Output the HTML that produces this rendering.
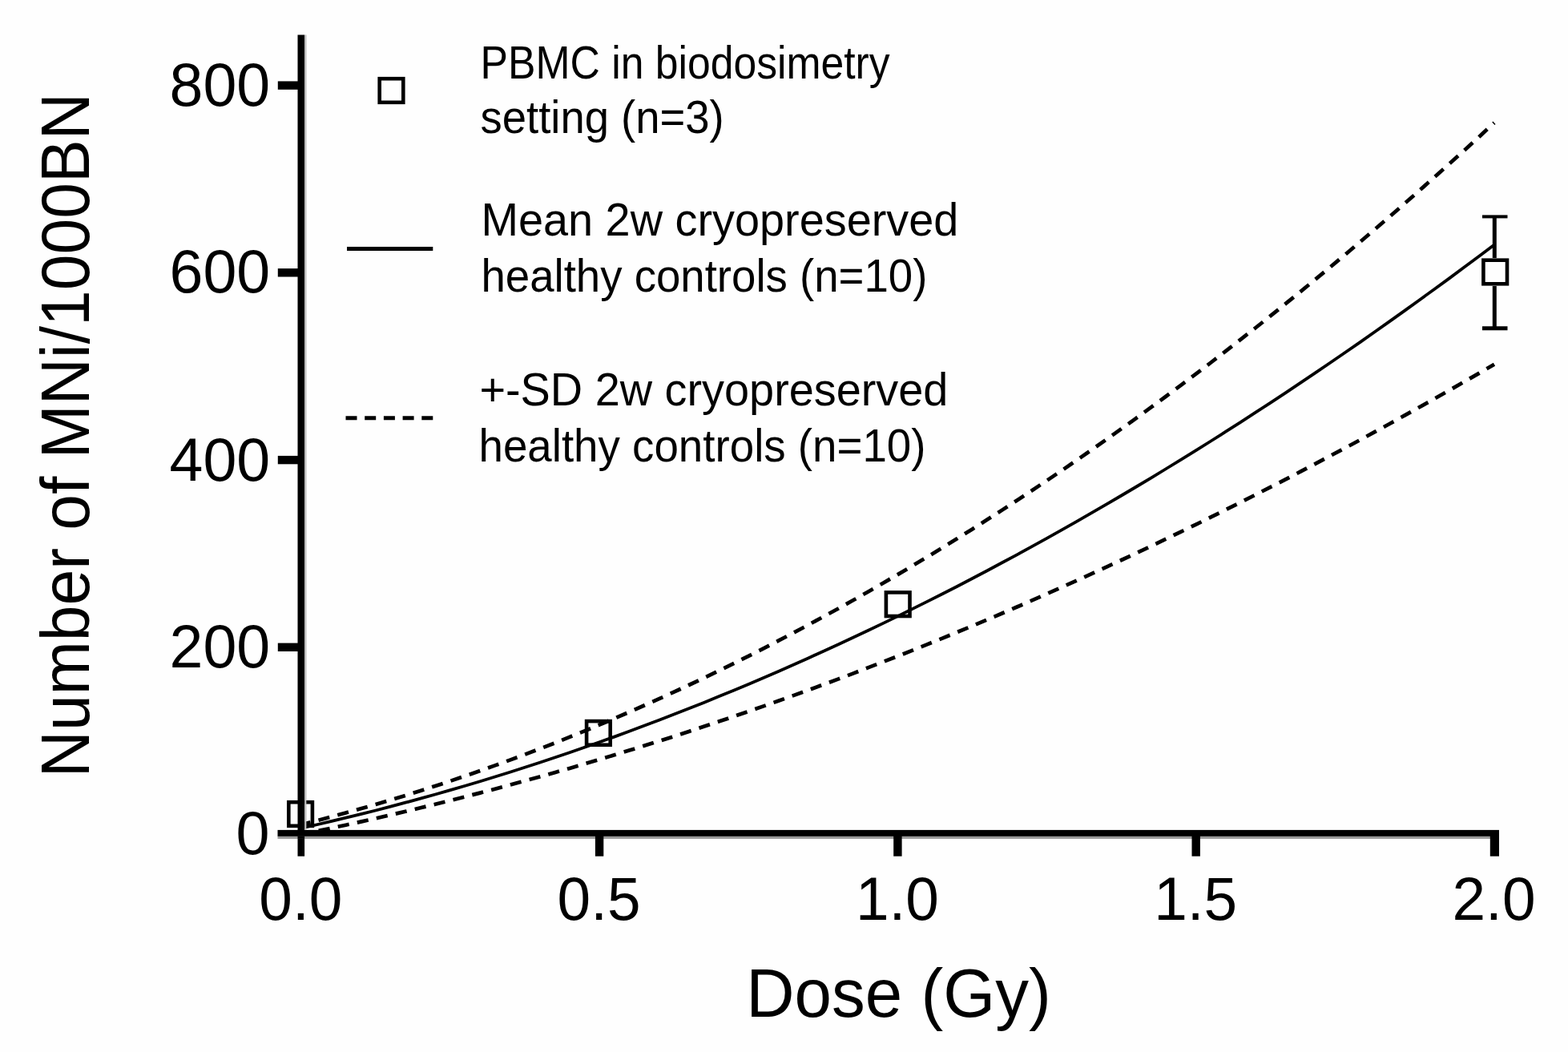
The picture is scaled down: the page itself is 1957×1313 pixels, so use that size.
<!DOCTYPE html>
<html lang="en"><head><meta charset="utf-8"><title>Dose response: MNi/1000BN vs Dose (Gy)</title>
<style>
html,body{margin:0;padding:0;background:#fff;}
body{width:1957px;height:1313px;overflow:hidden;}
svg{display:block;}
text{font-family:"Liberation Sans",sans-serif;fill:#000;}
.t{font-size:76.5px;}
.l{font-size:57px;}
.ax{font-size:84.5px;}
</style></head><body>
<svg width="1957" height="1313" viewBox="0 0 1957 1313">
<rect width="1957" height="1313" fill="#fefefe"/>

<g stroke="#000" stroke-width="5" fill="none">
<path d="M1865.3,270 V322 M1865.3,357 V410 M1850,409.8 H1881.5"/>
<path stroke-width="4" d="M1850,270.4 H1881.5"/>
</g>
<g stroke="#000" stroke-width="4.6" fill="none">
<rect x="360.3" y="1001.2" width="29.6" height="29.6"/>
<rect x="732.1" y="900.1" width="29.6" height="29.6"/>
<rect x="1105.9" y="739.4" width="29.6" height="29.6"/>
<rect x="1851.4" y="324.7" width="29.6" height="29.6"/>
<rect x="473.7" y="98.2" width="29.6" height="29.6"/>
</g>
<g stroke="#000" fill="none">
<path stroke-width="3.8" d="M375.8,1033.6 L394.4,1029.5 L413.0,1025.1 L431.6,1020.7 L450.3,1016.1 L468.9,1011.5 L487.5,1006.7 L506.1,1001.7 L524.7,996.7 L543.3,991.5 L562.0,986.2 L580.6,980.7 L599.2,975.2 L617.8,969.5 L636.4,963.7 L655.0,957.8 L673.6,951.7 L692.3,945.5 L710.9,939.2 L729.5,932.8 L748.1,926.2 L766.7,919.6 L785.3,912.8 L803.9,905.8 L822.6,898.8 L841.2,891.6 L859.8,884.3 L878.4,876.9 L897.0,869.3 L915.6,861.7 L934.2,853.9 L952.9,846.0 L971.5,837.9 L990.1,829.7 L1008.7,821.4 L1027.3,813.0 L1045.9,804.5 L1064.6,795.8 L1083.2,787.0 L1101.8,778.1 L1120.4,769.1 L1139.0,759.9 L1157.6,750.6 L1176.2,741.2 L1194.9,731.7 L1213.5,722.0 L1232.1,712.2 L1250.7,702.3 L1269.3,692.3 L1287.9,682.1 L1306.5,671.8 L1325.2,661.4 L1343.8,650.9 L1362.4,640.2 L1381.0,629.4 L1399.6,618.5 L1418.2,607.5 L1436.9,596.3 L1455.5,585.0 L1474.1,573.6 L1492.7,562.1 L1511.3,550.5 L1529.9,538.7 L1548.5,526.8 L1567.2,514.7 L1585.8,502.6 L1604.4,490.3 L1623.0,477.9 L1641.6,465.4 L1660.2,452.7 L1678.8,440.0 L1697.5,427.1 L1716.1,414.0 L1734.7,400.9 L1753.3,387.6 L1771.9,374.2 L1790.5,360.7 L1809.2,347.1 L1827.8,333.3 L1846.4,319.4 L1865.0,305.4"/>
<path stroke-width="4.7" stroke-dasharray="14.2 10.4" stroke-dashoffset="2.2" d="M375.8,1029.2 L394.4,1024.5 L413.0,1019.6 L431.6,1014.5 L450.3,1009.3 L468.9,1004.0 L487.5,998.5 L506.1,992.8 L524.7,986.9 L543.3,981.0 L562.0,974.8 L580.6,968.5 L599.2,962.0 L617.8,955.4 L636.4,948.6 L655.0,941.7 L673.6,934.6 L692.3,927.4 L710.9,919.9 L729.5,912.4 L748.1,904.7 L766.7,896.8 L785.3,888.7 L803.9,880.5 L822.6,872.2 L841.2,863.7 L859.8,855.0 L878.4,846.2 L897.0,837.2 L915.6,828.1 L934.2,818.8 L952.9,809.3 L971.5,799.7 L990.1,789.9 L1008.7,780.0 L1027.3,769.9 L1045.9,759.7 L1064.6,749.3 L1083.2,738.7 L1101.8,728.0 L1120.4,717.1 L1139.0,706.1 L1157.6,694.9 L1176.2,683.6 L1194.9,672.1 L1213.5,660.4 L1232.1,648.6 L1250.7,636.6 L1269.3,624.5 L1287.9,612.2 L1306.5,599.8 L1325.2,587.2 L1343.8,574.4 L1362.4,561.5 L1381.0,548.4 L1399.6,535.2 L1418.2,521.8 L1436.9,508.2 L1455.5,494.5 L1474.1,480.7 L1492.7,466.6 L1511.3,452.5 L1529.9,438.1 L1548.5,423.6 L1567.2,409.0 L1585.8,394.2 L1604.4,379.2 L1623.0,364.1 L1641.6,348.8 L1660.2,333.4 L1678.8,317.8 L1697.5,302.0 L1716.1,286.1 L1734.7,270.1 L1753.3,253.8 L1771.9,237.5 L1790.5,220.9 L1809.2,204.2 L1827.8,187.4 L1846.4,170.4 L1865.0,153.2"/>
<path stroke-width="4.7" stroke-dasharray="14.2 10.4" stroke-dashoffset="2.2" d="M375.8,1041.5 L394.4,1037.6 L413.0,1033.7 L431.6,1029.7 L450.3,1025.6 L468.9,1021.4 L487.5,1017.1 L506.1,1012.8 L524.7,1008.3 L543.3,1003.8 L562.0,999.1 L580.6,994.4 L599.2,989.6 L617.8,984.7 L636.4,979.7 L655.0,974.6 L673.6,969.5 L692.3,964.2 L710.9,958.9 L729.5,953.4 L748.1,947.9 L766.7,942.3 L785.3,936.6 L803.9,930.8 L822.6,925.0 L841.2,919.0 L859.8,913.0 L878.4,906.8 L897.0,900.6 L915.6,894.3 L934.2,887.9 L952.9,881.4 L971.5,874.8 L990.1,868.1 L1008.7,861.4 L1027.3,854.5 L1045.9,847.6 L1064.6,840.6 L1083.2,833.4 L1101.8,826.2 L1120.4,819.0 L1139.0,811.6 L1157.6,804.1 L1176.2,796.6 L1194.9,788.9 L1213.5,781.2 L1232.1,773.4 L1250.7,765.5 L1269.3,757.5 L1287.9,749.4 L1306.5,741.2 L1325.2,732.9 L1343.8,724.6 L1362.4,716.1 L1381.0,707.6 L1399.6,699.0 L1418.2,690.3 L1436.9,681.5 L1455.5,672.6 L1474.1,663.6 L1492.7,654.6 L1511.3,645.4 L1529.9,636.2 L1548.5,626.9 L1567.2,617.4 L1585.8,607.9 L1604.4,598.4 L1623.0,588.7 L1641.6,578.9 L1660.2,569.0 L1678.8,559.1 L1697.5,549.1 L1716.1,538.9 L1734.7,528.7 L1753.3,518.4 L1771.9,508.0 L1790.5,497.6 L1809.2,487.0 L1827.8,476.3 L1846.4,465.6 L1865.0,454.8"/>
<path stroke-width="5" d="M433,310.6 H540.3"/>
<path stroke-width="5" stroke-dasharray="14 9.7" d="M431.5,521.7 H540.5"/>
</g>
<g fill="#000">
<rect x="371.5" y="43.5" width="8.6" height="1025.2"/>
<rect x="346.5" y="1035.9" width="1524.5" height="8"/>
<rect x="346.5" y="1043.9" width="1524.5" height="3" fill="#999"/>
<rect x="380.1" y="43.5" width="2.3" height="992.4" fill="#bbb"/>
<rect x="371.5" y="1043.9" width="8.6" height="3"/>
<rect x="346.8" y="802.6" width="28" height="10.4"/>
<rect x="346.8" y="568.9" width="28" height="10.4"/>
<rect x="346.8" y="335.1" width="28" height="10.4"/>
<rect x="346.8" y="101.4" width="28" height="10.4"/>
<rect x="742.9" y="1040" width="10.4" height="28.7"/>
<rect x="1115.2" y="1040" width="10.4" height="28.7"/>
<rect x="1487.5" y="1040" width="10.4" height="28.7"/>
<rect x="1859.8" y="1040" width="11.2" height="28.7"/>
</g>
<text class="t" x="336.6" y="1065.6" text-anchor="end" textLength="42" lengthAdjust="spacingAndGlyphs">0</text>
<text class="t" x="337.2" y="833.0" text-anchor="end" textLength="125.6" lengthAdjust="spacingAndGlyphs">200</text>
<text class="t" x="337.2" y="599.8" text-anchor="end" textLength="125.6" lengthAdjust="spacingAndGlyphs">400</text>
<text class="t" x="337.2" y="365.4" text-anchor="end" textLength="125.6" lengthAdjust="spacingAndGlyphs">600</text>
<text class="t" x="337.2" y="132.1" text-anchor="end" textLength="125.6" lengthAdjust="spacingAndGlyphs">800</text>
<text class="t" x="375.3" y="1147.6" text-anchor="middle" textLength="104" lengthAdjust="spacingAndGlyphs">0.0</text>
<text class="t" x="747.6" y="1147.6" text-anchor="middle" textLength="104" lengthAdjust="spacingAndGlyphs">0.5</text>
<text class="t" x="1119.9" y="1147.6" text-anchor="middle" textLength="104" lengthAdjust="spacingAndGlyphs">1.0</text>
<text class="t" x="1492.2" y="1147.6" text-anchor="middle" textLength="104" lengthAdjust="spacingAndGlyphs">1.5</text>
<text class="t" x="1864.5" y="1147.6" text-anchor="middle" textLength="104" lengthAdjust="spacingAndGlyphs">2.0</text>
<text class="ax" x="1121.5" y="1268.8" text-anchor="middle" textLength="380.5" lengthAdjust="spacingAndGlyphs">Dose (Gy)</text>
<text class="ax" transform="translate(111.2,543.2) rotate(-90)" text-anchor="middle" textLength="854" lengthAdjust="spacingAndGlyphs">Number of MNi/1000BN</text>
<text class="l" x="599.6" y="97.5" textLength="511" lengthAdjust="spacingAndGlyphs">PBMC in biodosimetry</text>
<text class="l" x="599.6" y="166" textLength="304" lengthAdjust="spacingAndGlyphs">setting (n=3)</text>
<text class="l" x="600.4" y="293.6" textLength="596" lengthAdjust="spacingAndGlyphs">Mean 2w cryopreserved</text>
<text class="l" x="600.4" y="363.8" textLength="557" lengthAdjust="spacingAndGlyphs">healthy controls (n=10)</text>
<text class="l" x="598.4" y="506.2" textLength="585" lengthAdjust="spacingAndGlyphs">+-SD 2w cryopreserved</text>
<text class="l" x="597.5" y="575.6" textLength="558" lengthAdjust="spacingAndGlyphs">healthy controls (n=10)</text>
</svg>
</body></html>
